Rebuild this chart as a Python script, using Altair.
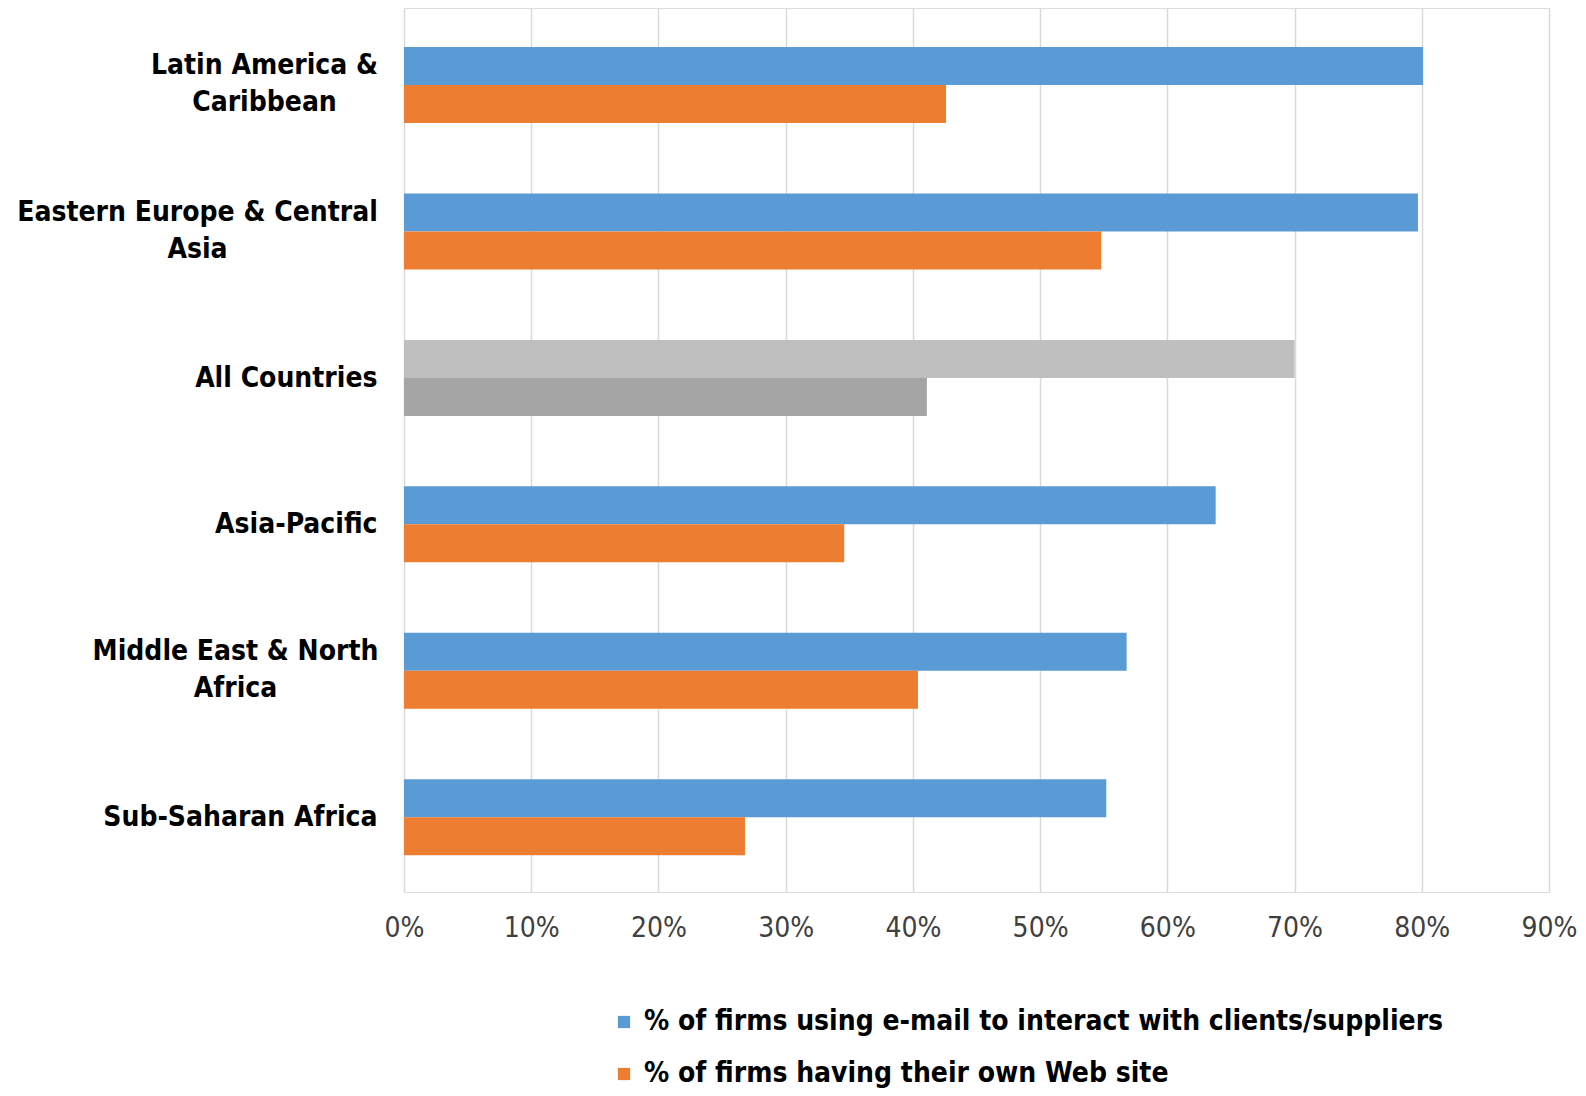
import altair as alt
import pandas as pd

regions = [
    "Latin America & Caribbean",
    "Eastern Europe & Central Asia",
    "All Countries",
    "Asia-Pacific",
    "Middle East & North Africa",
    "Sub-Saharan Africa",
]
label_lines = [
    ["Latin America &", "Caribbean"],
    ["Eastern Europe & Central", "Asia"],
    ["All Countries"],
    ["Asia-Pacific"],
    ["Middle East & North", "Africa"],
    ["Sub-Saharan Africa"],
]
email_pct = [80.1, 79.7, 70.0, 63.8, 56.8, 55.2]
website_pct = [42.6, 54.8, 41.1, 34.6, 40.4, 26.8]
series_names = [
    "% of firms using e-mail to interact with clients/suppliers",
    "% of firms having their own Web site",
]
x_ticks = [0, 10, 20, 30, 40, 50, 60, 70, 80, 90]

# colour keys: normal series, plus grey variants for the "All Countries" row
grey_keys = ["All Countries: e-mail", "All Countries: Web site"]
color_domain = series_names + grey_keys
color_range = ["#5B9BD5", "#ED7D31", "#BFBFBF", "#A5A5A5"]

rows = []
for r, e, w in zip(regions, email_pct, website_pct):
    for i, (s, v) in enumerate(zip(series_names, [e, w])):
        key = grey_keys[i] if r == "All Countries" else s
        rows.append({"Region": r, "Series": s, "Value": v, "ColorKey": key})
df = pd.DataFrame(rows)

FONT = "Liberation Sans Narrow, Arial Narrow, DejaVu Sans Condensed, Liberation Sans, sans-serif"

# multi-line y labels
expr_parts = []
for r, lines in zip(regions, label_lines):
    if len(lines) > 1:
        arr = "[" + ",".join("'" + l.replace("'", "\\'") + "'" for l in lines) + "]"
        expr_parts.append(f"datum.value == '{r}' ? {arr} : ")
label_expr = "".join(expr_parts) + "datum.value"

# label placement (centre of multi-line blocks)
pad_center = {
    "Latin America & Caribbean": 140,
    "Eastern Europe & Central Asia": 207,
    "Middle East & North Africa": 169,
}
LINE_H = 37
label_padding = {
    "condition": [{"test": f"datum.value == '{k}'", "value": v} for k, v in pad_center.items()],
    "value": 27,
}
label_align = {
    "condition": [{"test": f"datum.value == '{k}'", "value": "center"} for k in pad_center],
    "value": "right",
}
label_offset = {
    "condition": [{"test": f"datum.value == '{k}'", "value": -LINE_H / 2} for k in pad_center],
    "value": 1,
}

bars = alt.Chart(df).mark_bar().encode(
    y=alt.Y(
        "Region:N",
        sort=regions,
        title=None,
        scale=alt.Scale(paddingInner=0.481, paddingOuter=0.2585, align=0.515),
        axis=alt.Axis(
            labelExpr=label_expr,
            labelFont=FONT,
            labelFontSize=28,
            labelFontWeight="bold",
            labelColor="#000000",
            labelLineHeight=LINE_H,
            labelAlign=label_align,
            labelBaseline="middle",
            labelPadding=label_padding,
            labelOffset=label_offset,
            ticks=False,
            domain=False,
            grid=False,
            labelLimit=0,
        ),
    ),
    yOffset=alt.YOffset("Series:N", sort=series_names, scale=alt.Scale(paddingInner=0, paddingOuter=0)),
    x=alt.X(
        "Value:Q",
        title=None,
        scale=alt.Scale(domain=[0, 90], nice=False, zero=True),
        axis=alt.Axis(
            values=x_ticks,
            labelExpr="datum.value + '%'",
            labelFont=FONT,
            labelFontSize=28,
            labelColor="#404040",
            labelPadding=22,
            labelFlush=False,
            labelOverlap=False,
            ticks=False,
            domain=False,
            grid=True,
            gridColor="#D9D9D9",
            gridWidth=1.5,
        ),
    ),
    color=alt.Color(
        "ColorKey:N",
        scale=alt.Scale(domain=color_domain, range=color_range),
        legend=alt.Legend(
            values=series_names,
            title=None,
            orient="none",
            legendX=206,
            legendY=1000,
            direction="vertical",
            symbolType="square",
            symbolSize=150,
            symbolStrokeWidth=0,
            labelFont=FONT,
            labelFontSize=28,
            labelFontWeight="bold",
            labelColor="#000000",
            labelLimit=0,
            rowPadding=24,
            labelOffset=6,
            padding=0,
        ),
    ),
)

chart = bars.properties(
    width=1145,
    height=884,
    autosize=alt.AutoSizeParams(type="none"),
    padding={"left": 396, "top": 0, "right": 29, "bottom": 196},
).configure_view(stroke=None).configure(background="white")

chart.save("out.html", embed_options={"renderer": "svg", "actions": False})
